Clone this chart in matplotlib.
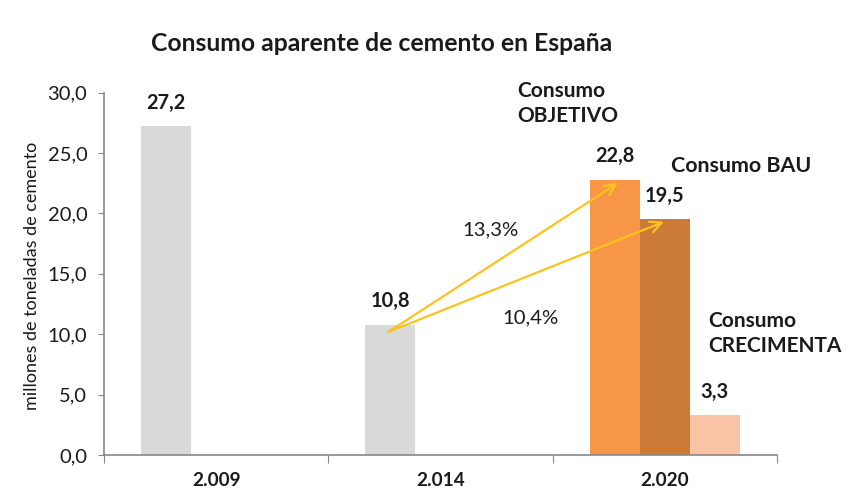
import matplotlib
matplotlib.use("Agg")
import matplotlib.pyplot as plt
import numpy as np

categories = ["2.009", "2.014", "2.020"]
historico = [27.2, 10.8, None]
objetivo = [None, None, 22.8]
bau = [None, None, 19.5]
crecimenta = [None, None, 3.3]
growth_labels = ["13,3%", "10,4%"]

plt.rcParams['font.family'] = ['Lato', 'DejaVu Sans']

fig = plt.figure(figsize=(8.49, 4.94), dpi=100)
ax = fig.add_axes([0.1225, 0.079, 0.7925, 0.7335])

w = 0.223
x = np.arange(len(categories))
txt = '#1a1a1a'
lab_fs = 14.4
ann_fs = 15.0

def fmt(v):
    return f"{v:.1f}".replace('.', ',')

series = [
    (historico, -w, '#D9D9D9'),
    (objetivo, -w, '#F79646'),
    (bau, 0.0, '#CB7A37'),
    (crecimenta, w, '#F9C3A6'),
]
for vals, off, col in series:
    for i, v in enumerate(vals):
        if v is None:
            continue
        ax.bar(x[i] + off, v, width=w, color=col, edgecolor='none', zorder=2)

# data labels
off_y = 1.95
for i, v in enumerate(historico):
    if v is not None:
        ax.text(x[i] - w, v + off_y, fmt(v), ha='center', va='center',
                fontsize=lab_fs, fontweight='bold', color=txt)
ax.text(x[2] - w, objetivo[2] + off_y, fmt(objetivo[2]), ha='center', va='center',
        fontsize=lab_fs, fontweight='bold', color=txt)
ax.text(x[2] + 0.0, bau[2] + off_y, fmt(bau[2]), ha='center', va='center',
        fontsize=lab_fs, fontweight='bold', color=txt)
ax.text(x[2] + w, crecimenta[2] + off_y, fmt(crecimenta[2]), ha='center', va='center',
        fontsize=lab_fs, fontweight='bold', color=txt)

# series annotations
ax.text(1.344, 29.1, "Consumo\nOBJETIVO", ha='left', va='center', fontsize=ann_fs,
        fontweight='bold', color=txt, linespacing=1.35)
ax.text(2.027, 23.9, "Consumo BAU", ha='left', va='center', fontsize=ann_fs + 0.4,
        fontweight='bold', color=txt)
ax.text(2.196, 10.07, "Consumo\nCRECIMENTA", ha='left', va='center', fontsize=ann_fs,
        fontweight='bold', color=txt, linespacing=1.35)

# arrows
start = (0.768, 10.19)
arrow_kw = dict(arrowstyle='->', color='#FFC21F', lw=1.6, mutation_scale=20,
                shrinkA=0, shrinkB=0)
ax.annotate("", xy=(1.79, 22.5), xytext=start, arrowprops=arrow_kw, zorder=5)
ax.annotate("", xy=(1.996, 19.3), xytext=start, arrowprops=arrow_kw, zorder=5)
ax.text(1.223, 18.6, growth_labels[0], ha='center', va='center', fontsize=14.6, color=txt)
ax.text(1.402, 11.35, growth_labels[1], ha='center', va='center', fontsize=14.6, color=txt)

ax.set_xlim(-0.5, 2.5)
ax.set_ylim(0, 30)
ax.set_yticks(np.arange(0, 31, 5))
ax.set_yticklabels([fmt(v) for v in np.arange(0, 31, 5)], fontsize=14.5, color=txt)
ax.set_xticks([-0.5, 0.5, 1.5, 2.5])
ax.set_xticklabels([])
ax.set_xticks(x, minor=True)
ax.set_xticklabels(categories, minor=True, fontsize=13.7, fontweight='bold', color=txt)
ax.tick_params(axis='x', which='minor', length=0, pad=12)
ax.tick_params(axis='x', which='major', length=6, color='#888888', direction='out')
ax.tick_params(axis='y', length=4, color='#888888', direction='out', pad=8)

for s in ['top', 'right']:
    ax.spines[s].set_visible(False)
for s in ['left', 'bottom']:
    ax.spines[s].set_color('#888888')
    ax.spines[s].set_linewidth(1.2)

ax.set_ylabel("millones de toneladas de cemento", fontsize=13, color=txt, va='center')
ax.yaxis.set_label_coords(-0.107, 0.495)
fig.text(0.45, 0.911, "Consumo aparente de cemento en España", ha='center', va='center',
         fontsize=17.8, fontweight='bold', color=txt)

fig.savefig("out.png", dpi=100)
